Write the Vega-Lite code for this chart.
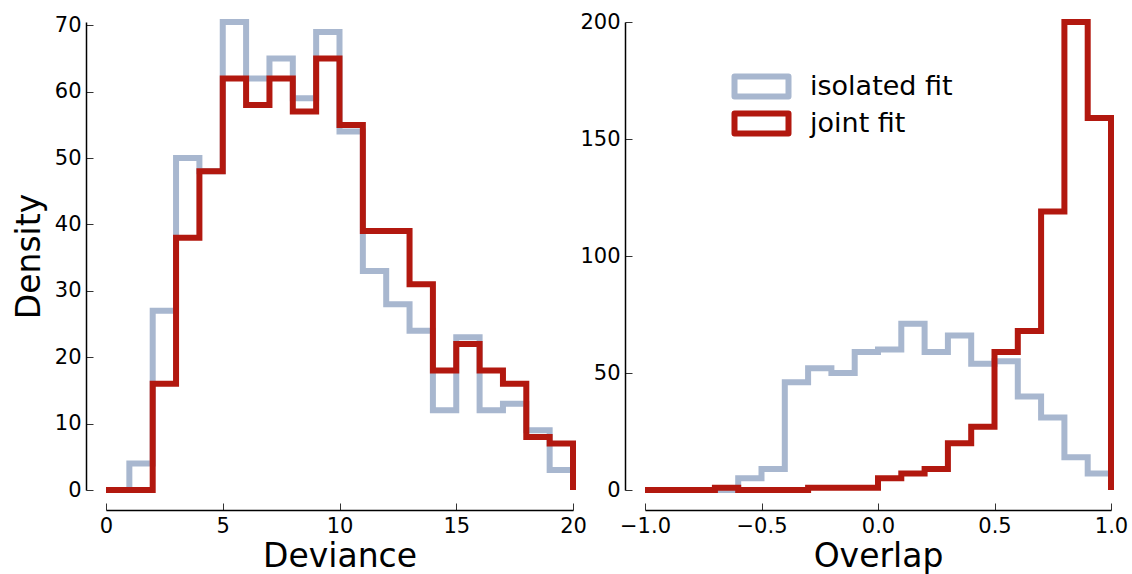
{
  "$schema": "https://vega.github.io/schema/vega-lite/v6.json",
  "background": "white",
  "padding": {"left": 13, "top": 10, "right": 20, "bottom": 5},
  "bounds": "flush",
  "spacing": 72,
  "datasets": {
    "dev": [
      {"s": "isolated fit", "i": 0, "x": 0, "y": 0},
      {"s": "isolated fit", "i": 1, "x": 0, "y": 0},
      {"s": "isolated fit", "i": 2, "x": 1, "y": 4},
      {"s": "isolated fit", "i": 3, "x": 2, "y": 27},
      {"s": "isolated fit", "i": 4, "x": 3, "y": 50},
      {"s": "isolated fit", "i": 5, "x": 4, "y": 48},
      {"s": "isolated fit", "i": 6, "x": 5, "y": 70.5},
      {"s": "isolated fit", "i": 7, "x": 6, "y": 62},
      {"s": "isolated fit", "i": 8, "x": 7, "y": 65},
      {"s": "isolated fit", "i": 9, "x": 8, "y": 59},
      {"s": "isolated fit", "i": 10, "x": 9, "y": 69},
      {"s": "isolated fit", "i": 11, "x": 10, "y": 54},
      {"s": "isolated fit", "i": 12, "x": 11, "y": 33},
      {"s": "isolated fit", "i": 13, "x": 12, "y": 28},
      {"s": "isolated fit", "i": 14, "x": 13, "y": 24},
      {"s": "isolated fit", "i": 15, "x": 14, "y": 12},
      {"s": "isolated fit", "i": 16, "x": 15, "y": 23},
      {"s": "isolated fit", "i": 17, "x": 16, "y": 12},
      {"s": "isolated fit", "i": 18, "x": 17, "y": 13},
      {"s": "isolated fit", "i": 19, "x": 18, "y": 9},
      {"s": "isolated fit", "i": 20, "x": 19, "y": 3},
      {"s": "isolated fit", "i": 21, "x": 20, "y": 0},
      {"s": "joint fit", "i": 0, "x": 0, "y": 0},
      {"s": "joint fit", "i": 1, "x": 0, "y": 0},
      {"s": "joint fit", "i": 2, "x": 1, "y": 0},
      {"s": "joint fit", "i": 3, "x": 2, "y": 16},
      {"s": "joint fit", "i": 4, "x": 3, "y": 38},
      {"s": "joint fit", "i": 5, "x": 4, "y": 48},
      {"s": "joint fit", "i": 6, "x": 5, "y": 62},
      {"s": "joint fit", "i": 7, "x": 6, "y": 58},
      {"s": "joint fit", "i": 8, "x": 7, "y": 62},
      {"s": "joint fit", "i": 9, "x": 8, "y": 57},
      {"s": "joint fit", "i": 10, "x": 9, "y": 65},
      {"s": "joint fit", "i": 11, "x": 10, "y": 55},
      {"s": "joint fit", "i": 12, "x": 11, "y": 39},
      {"s": "joint fit", "i": 13, "x": 12, "y": 39},
      {"s": "joint fit", "i": 14, "x": 13, "y": 31},
      {"s": "joint fit", "i": 15, "x": 14, "y": 18},
      {"s": "joint fit", "i": 16, "x": 15, "y": 22},
      {"s": "joint fit", "i": 17, "x": 16, "y": 18},
      {"s": "joint fit", "i": 18, "x": 17, "y": 16},
      {"s": "joint fit", "i": 19, "x": 18, "y": 8},
      {"s": "joint fit", "i": 20, "x": 19, "y": 7},
      {"s": "joint fit", "i": 21, "x": 20, "y": 0}
    ],
    "ovl": [
      {"s": "isolated fit", "i": 0, "x": -1.0, "y": 0},
      {"s": "isolated fit", "i": 1, "x": -1.0, "y": 0},
      {"s": "isolated fit", "i": 2, "x": -0.9, "y": 0},
      {"s": "isolated fit", "i": 3, "x": -0.8, "y": 0},
      {"s": "isolated fit", "i": 4, "x": -0.7, "y": 0},
      {"s": "isolated fit", "i": 5, "x": -0.6, "y": 5},
      {"s": "isolated fit", "i": 6, "x": -0.5, "y": 9},
      {"s": "isolated fit", "i": 7, "x": -0.4, "y": 46},
      {"s": "isolated fit", "i": 8, "x": -0.3, "y": 52},
      {"s": "isolated fit", "i": 9, "x": -0.2, "y": 50},
      {"s": "isolated fit", "i": 10, "x": -0.1, "y": 59},
      {"s": "isolated fit", "i": 11, "x": 0.0, "y": 60},
      {"s": "isolated fit", "i": 12, "x": 0.1, "y": 71},
      {"s": "isolated fit", "i": 13, "x": 0.2, "y": 59},
      {"s": "isolated fit", "i": 14, "x": 0.3, "y": 66},
      {"s": "isolated fit", "i": 15, "x": 0.4, "y": 54},
      {"s": "isolated fit", "i": 16, "x": 0.5, "y": 55},
      {"s": "isolated fit", "i": 17, "x": 0.6, "y": 40},
      {"s": "isolated fit", "i": 18, "x": 0.7, "y": 31},
      {"s": "isolated fit", "i": 19, "x": 0.8, "y": 14},
      {"s": "isolated fit", "i": 20, "x": 0.9, "y": 7},
      {"s": "isolated fit", "i": 21, "x": 1.0, "y": 0},
      {"s": "joint fit", "i": 0, "x": -1.0, "y": 0},
      {"s": "joint fit", "i": 1, "x": -1.0, "y": 0},
      {"s": "joint fit", "i": 2, "x": -0.9, "y": 0},
      {"s": "joint fit", "i": 3, "x": -0.8, "y": 0},
      {"s": "joint fit", "i": 4, "x": -0.7, "y": 1},
      {"s": "joint fit", "i": 5, "x": -0.6, "y": 0},
      {"s": "joint fit", "i": 6, "x": -0.5, "y": 0},
      {"s": "joint fit", "i": 7, "x": -0.4, "y": 0},
      {"s": "joint fit", "i": 8, "x": -0.3, "y": 1},
      {"s": "joint fit", "i": 9, "x": -0.2, "y": 1},
      {"s": "joint fit", "i": 10, "x": -0.1, "y": 1},
      {"s": "joint fit", "i": 11, "x": 0.0, "y": 5},
      {"s": "joint fit", "i": 12, "x": 0.1, "y": 7},
      {"s": "joint fit", "i": 13, "x": 0.2, "y": 9},
      {"s": "joint fit", "i": 14, "x": 0.3, "y": 20},
      {"s": "joint fit", "i": 15, "x": 0.4, "y": 27},
      {"s": "joint fit", "i": 16, "x": 0.5, "y": 59},
      {"s": "joint fit", "i": 17, "x": 0.6, "y": 68},
      {"s": "joint fit", "i": 18, "x": 0.7, "y": 119},
      {"s": "joint fit", "i": 19, "x": 0.8, "y": 200},
      {"s": "joint fit", "i": 20, "x": 0.9, "y": 159},
      {"s": "joint fit", "i": 21, "x": 1.0, "y": 0}
    ]
  },
  "resolve": {"scale": {"color": "independent"}, "legend": {"color": "independent"}},
  "hconcat": [
    {
      "width": 467,
      "height": 468,
      "data": {"name": "dev"},
      "mark": {"type": "line", "interpolate": "step-after", "strokeWidth": 6, "strokeJoin": "miter", "strokeCap": "butt"},
      "encoding": {
        "x": {"field": "x", "type": "quantitative", "scale": {"domain": [0, 20], "nice": false, "zero": false},
              "axis": {"title": "Deviance", "values": [0, 5, 10, 15, 20], "format": "d"}},
        "y": {"field": "y", "type": "quantitative", "scale": {"domain": [0, 70.5], "nice": false},
              "axis": {"title": "Density", "values": [0, 10, 20, 30, 40, 50, 60, 70], "format": "d"}},
        "color": {"field": "s", "type": "nominal",
                  "scale": {"domain": ["isolated fit", "joint fit"], "range": ["#a8b7cf", "#b2180f"]},
                  "legend": null},
        "order": {"field": "i", "type": "quantitative"}
      }
    },
    {
      "width": 466,
      "height": 468,
      "data": {"name": "ovl"},
      "mark": {"type": "line", "interpolate": "step-after", "strokeWidth": 6, "strokeJoin": "miter", "strokeCap": "butt"},
      "encoding": {
        "x": {"field": "x", "type": "quantitative", "scale": {"domain": [-1, 1], "nice": false, "zero": false},
              "axis": {"title": "Overlap", "values": [-1, -0.5, 0, 0.5, 1], "format": ".1f"}},
        "y": {"field": "y", "type": "quantitative", "scale": {"domain": [0, 200], "nice": false},
              "axis": {"title": null, "values": [0, 50, 100, 150, 200], "format": "d"}},
        "color": {"field": "s", "type": "nominal",
                  "scale": {"domain": ["isolated fit", "joint fit"], "range": ["#a8b7cf", "#b2180f"]},
                  "legend": {"title": null, "orient": "none", "legendX": 100, "legendY": 48,
                             "symbolType": "M-2,-0.74H2V0.74H-2Z", "symbolSize": 729,
                             "symbolStrokeWidth": 6, "symbolFillColor": "transparent",
                             "labelFont": "DejaVu Sans", "labelFontSize": 27, "labelColor": "black",
                             "labelOffset": 32, "rowPadding": 7, "padding": 0,
                             "encode": {"symbols": {"update": {"strokeJoin": {"value": "round"}}}}}},
        "order": {"field": "i", "type": "quantitative"}
      }
    }
  ],
  "config": {
    "view": {"stroke": null},
    "font": "DejaVu Sans",
    "axis": {
      "grid": false,
      "offset": 20,
      "domainColor": "black",
      "domainWidth": 1.5,
      "tickColor": "#333333",
      "tickWidth": 1,
      "tickSize": -7,
      "labelPadding": 12,
      "labelFont": "DejaVu Sans",
      "labelFontSize": 21,
      "labelColor": "black",
      "labelFlush": false,
      "labelOverlap": false,
      "titleFont": "DejaVu Sans",
      "titleFontSize": 33,
      "titleFontWeight": "normal",
      "titleColor": "black"
    },
    "axisX": {"titlePadding": 4},
    "axisY": {"titlePadding": 8}
  }
}
